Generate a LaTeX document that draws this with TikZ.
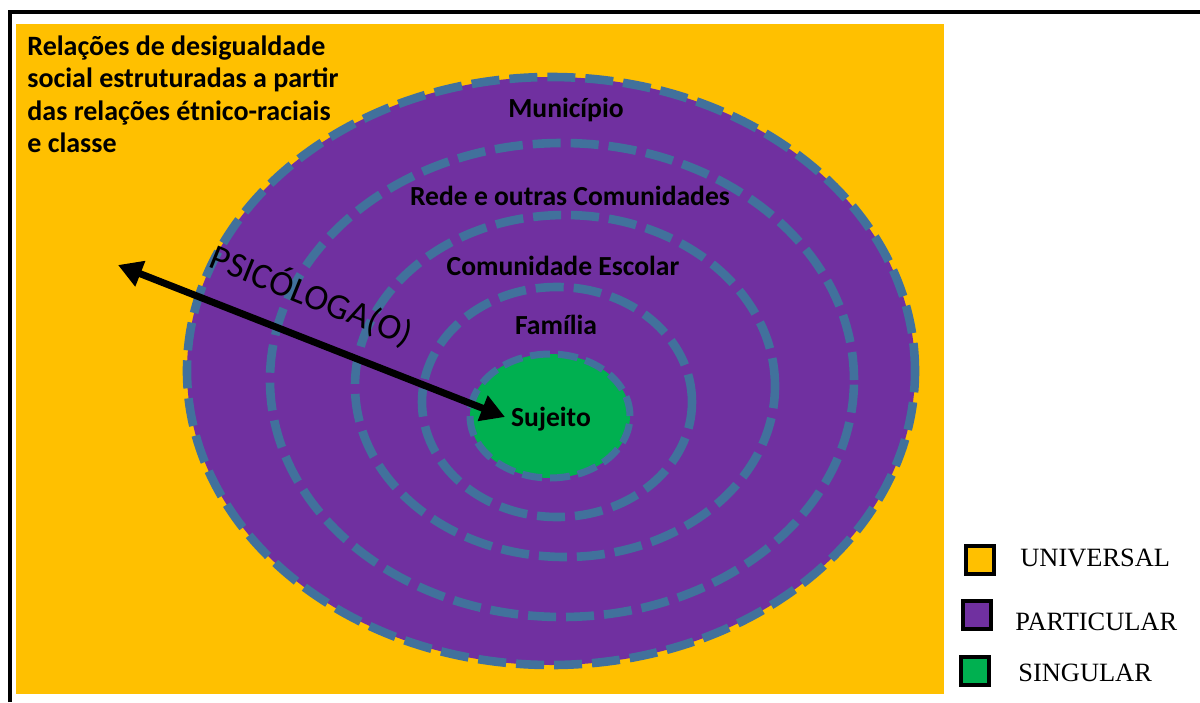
\documentclass[tikz,border=0pt]{standalone}
\usepackage{fontspec}
\setmainfont{Carlito}
\newfontfamily\legendfont{Liberation Serif}
\usetikzlibrary{arrows.meta,shapes.geometric}
\definecolor{univ}{HTML}{FFC000}
\definecolor{part}{HTML}{7030A0}
\definecolor{sing}{HTML}{00B050}
\definecolor{ringc}{HTML}{41719C}
\begin{document}
\begin{tikzpicture}[x=0.5pt,y=-0.5pt,
  ringline/.style={ellipse, draw=ringc, line width=4.3pt, dash pattern=on 14pt off 5pt, inner sep=0pt},
  lbl/.style={font=\bfseries\fontsize{13.8}{16.3}\selectfont, text=black, inner sep=0pt},
  legbox/.style={draw=black, line width=1.6pt, minimum size=14pt, inner sep=0pt},
  legtxt/.style={font=\legendfont\fontsize{13.2}{15}\selectfont, anchor=west, inner sep=0pt}]
\useasboundingbox (0,0) rectangle (1200,702);
\fill[white] (0,0) rectangle (1200,702);
\draw[line width=2pt] (10,702) -- (10,12) -- (1200,12);
\fill[univ] (16,24) rectangle (944,694);
% rings
\node[ringline, fill=part, minimum width=364pt, minimum height=294pt] (municipio) at (551,371) {};
\node[ringline, minimum width=292pt, minimum height=237pt] (rede) at (562,380) {};
\node[ringline, minimum width=210pt, minimum height=171pt] (escola) at (565,386) {};
\node[ringline, minimum width=135pt, minimum height=115pt] (familia) at (557,402) {};
\node[ringline, fill=sing, line width=3.5pt, dash pattern=on 10pt off 4pt, minimum width=80pt, minimum height=62pt] (sujeito) at (550,416) {};
% labels
\node[lbl, align=left, anchor=north west, font=\bfseries\fontsize{14}{16.3}\selectfont] (titulo) at (27,35) {Relações de desigualdade\\social estruturadas a partir\\das relações étnico-raciais\\e classe};
\node[lbl] (lmun) at (566,110) {Município};
\node[lbl] (lrede) at (570,196) {Rede e outras Comunidades};
\node[lbl] (lesc) at (563,266) {Comunidade Escolar};
\node[lbl] (lfam) at (556,325) {Família};
\node[lbl] (lsuj) at (551,419) {Sujeito};
% arrow
\coordinate (psiL) at (118,265);
\coordinate (psiR) at (505,417);
\draw[line width=3.5pt, {Triangle[length=12pt,width=13pt]}-{Triangle[length=12pt,width=13pt]}] (psiL) -- (psiR);
\node[font=\fontsize{18}{20}\selectfont, rotate=-22, inner sep=0pt] (psi) at (312,295) {PSICÓLOGA(O)};
% legend
\node[legbox, fill=univ] (kuniv) at (980,560) {};
\node[legbox, fill=part] (kpart) at (977,615) {};
\node[legbox, fill=sing] (ksing) at (975,671) {};
\node[legtxt] (tuniv) at (1020,558) {UNIVERSAL};
\node[legtxt] (tpart) at (1015,622) {PARTICULAR};
\node[legtxt] (tsing) at (1018,673) {SINGULAR};
\end{tikzpicture}
\end{document}
